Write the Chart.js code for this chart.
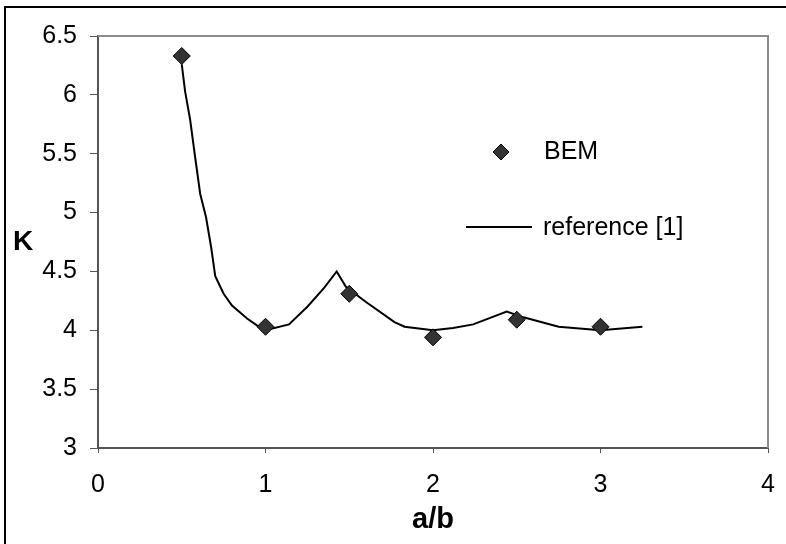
<!DOCTYPE html>
<html>
<head>
<meta charset="utf-8">
<script src="https://cdn.jsdelivr.net/npm/chart.js@4.4.0/dist/chart.umd.min.js"></script>
<style>
    html, body { margin: 0; padding: 0; background: #fff; }
    #wrap { width: 786px; height: 544px; }
</style>
</head>
<body>
<div id="wrap"><canvas id="chart" width="786" height="544"></canvas></div>
<script>
// BEM-resultat (punkter)
const bemX = [0.5, 1.0, 1.5, 2.0, 2.5, 3.0];
const bemY = [6.33, 4.03, 4.31, 3.94, 4.09, 4.03];

// Referenskurva [1]
const refX = [0.5, 0.52, 0.55, 0.58, 0.61, 0.645, 0.675, 0.70, 0.75, 0.80, 0.89, 0.97, 1.0, 1.14, 1.25, 1.35, 1.425, 1.48, 1.6, 1.77, 1.83, 2.0, 2.12, 2.24, 2.44, 2.54, 2.75, 3.0, 3.25];
const refY = [6.26, 6.03, 5.79, 5.47, 5.16, 4.96, 4.71, 4.46, 4.31, 4.21, 4.1, 4.02, 4.0, 4.05, 4.2, 4.36, 4.5, 4.37, 4.24, 4.07, 4.03, 4.0, 4.02, 4.05, 4.16, 4.11, 4.03, 4.0, 4.03];

const seriesNames = ['BEM', 'reference [1]'];
const xTitle = 'a/b';
const yTitle = 'K';

const FONT = "'Liberation Sans', Arial, sans-serif";

// Ram runt hela figuren + ram runt plotytan + K-titel + legend
const decorPlugin = {
    id: 'decor',
    afterDraw(chart) {
        const ctx = chart.ctx;
        const area = chart.chartArea;
        ctx.save();
        // yttre ram (bara vänster och topp syns)
        ctx.strokeStyle = '#000';
        ctx.lineWidth = 2;
        ctx.beginPath();
        ctx.moveTo(5, 544);
        ctx.lineTo(5, 7);
        ctx.lineTo(786, 7);
        ctx.stroke();

        // plotytans övre och högra kant
        ctx.strokeStyle = '#8c8c8c';
        ctx.lineWidth = 2;
        ctx.beginPath();
        ctx.moveTo(area.left, area.top);
        ctx.lineTo(area.right, area.top);
        ctx.lineTo(area.right, area.bottom);
        ctx.stroke();

        // y-axelns titel, horisontell
        ctx.fillStyle = '#000';
        ctx.font = 'bold 28px ' + FONT;
        ctx.textAlign = 'center';
        ctx.textBaseline = 'middle';
        ctx.fillText(yTitle, 23, 242);

        // legend
        ctx.font = '25px ' + FONT;
        ctx.textAlign = 'left';
        ctx.fillStyle = '#333';
        ctx.strokeStyle = '#000';
        ctx.lineWidth = 1;
        Chart.helpers.drawPoint(ctx, { pointStyle: 'rectRot', radius: 8, borderWidth: 1 }, 501, 152);
        ctx.fill();
        ctx.stroke();
        ctx.fillStyle = '#000';
        ctx.fillText(seriesNames[0], 544, 152);

        ctx.strokeStyle = '#000';
        ctx.lineWidth = 2;
        ctx.beginPath();
        ctx.moveTo(466, 227);
        ctx.lineTo(532, 227);
        ctx.stroke();
        ctx.fillText(seriesNames[1], 543, 228);
        ctx.restore();
    }
};

new Chart(document.getElementById('chart'), {
    type: 'scatter',
    data: {
        datasets: [
            {
                label: seriesNames[0],
                data: bemX.map((x, i) => ({ x: x, y: bemY[i] })),
                pointStyle: 'rectRot',
                pointRadius: 8.5,
                pointBackgroundColor: '#333',
                pointBorderColor: '#000',
                pointBorderWidth: 1,
                showLine: false
            },
            {
                label: seriesNames[1],
                data: refX.map((x, i) => ({ x: x, y: refY[i] })),
                showLine: true,
                borderColor: '#000',
                borderWidth: 2,
                pointRadius: 0,
                tension: 0
            }
        ]
    },
    options: {
        responsive: false,
        devicePixelRatio: 1,
        animation: false,
        layout: { padding: { left: 0, top: 36, right: 18, bottom: 0 } },
        plugins: {
            legend: { display: false },
            tooltip: { enabled: false }
        },
        scales: {
            x: {
                type: 'linear',
                min: 0,
                max: 4,
                ticks: {
                    stepSize: 1,
                    color: '#000',
                    padding: 17,
                    font: { family: FONT, size: 25 }
                },
                grid: {
                    drawOnChartArea: false,
                    drawTicks: true,
                    tickLength: 5,
                    color: '#555'
                },
                border: { display: true, color: '#555', width: 2 },
                title: {
                    display: true,
                    text: xTitle,
                    color: '#000',
                    font: { family: FONT, size: 29, weight: 'bold' },
                    padding: { top: 0, bottom: 7 }
                },
                afterFit(scale) {
                    scale.height = 96;
                    // låt layout.padding styra höger kant
                    scale.paddingLeft = 0;
                    scale.paddingRight = 0;
                }
            },
            y: {
                type: 'linear',
                min: 3,
                max: 6.5,
                ticks: {
                    stepSize: 0.5,
                    color: '#000',
                    padding: 13,
                    font: { family: FONT, size: 25 },
                    callback: value => String(value)
                },
                grid: {
                    drawOnChartArea: false,
                    drawTicks: true,
                    tickLength: 8,
                    color: '#555'
                },
                border: { display: true, color: '#555', width: 2 },
                afterFit(scale) { scale.width = 98; }
            }
        }
    },
    plugins: [decorPlugin]
});
</script>
</body>
</html>
